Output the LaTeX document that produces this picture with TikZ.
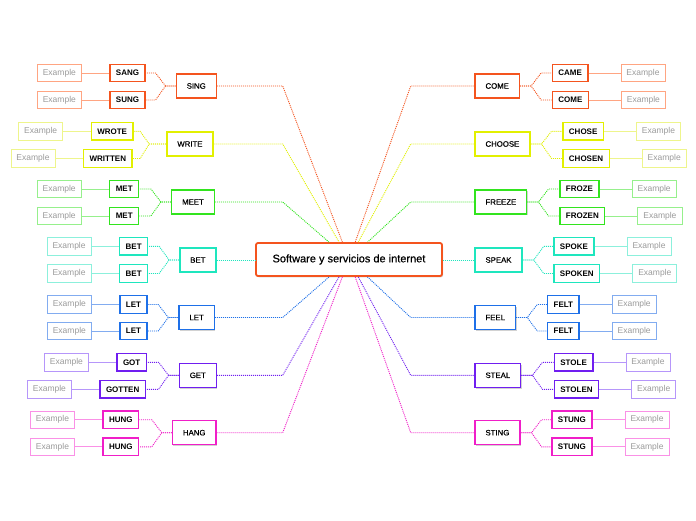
\documentclass[tikz,border=0pt]{standalone}
\usepackage{fontspec}
\setmainfont{Liberation Sans}
\newfontfamily\medfont[FakeBold=0.6]{Liberation Sans}
\usetikzlibrary{calc,shadows,positioning}
\definecolor{cO}{RGB}{244,84,30}   \definecolor{eO}{RGB}{255,165,130}
\definecolor{cY}{RGB}{226,240,0}   \definecolor{eY}{RGB}{238,245,140}
\definecolor{cG}{RGB}{50,228,30}   \definecolor{eG}{RGB}{150,240,140}
\definecolor{cA}{RGB}{30,230,190}  \definecolor{eA}{RGB}{140,240,220}
\definecolor{cB}{RGB}{30,112,232}  \definecolor{eB}{RGB}{130,172,240}
\definecolor{cP}{RGB}{112,30,240}  \definecolor{eP}{RGB}{182,150,250}
\definecolor{cM}{RGB}{240,30,200}  \definecolor{eM}{RGB}{250,145,230}
\definecolor{exgray}{RGB}{155,155,155}
\tikzset{
  mainbox/.style={draw=#1, line width=1.4pt, fill=white, minimum height=24pt, inner xsep=10.5pt, inner ysep=0pt,
    font=\medfont\fontsize{7.8}{9}\selectfont, drop shadow={shadow xshift=1pt,shadow yshift=-1.3pt,opacity=0.35}},
  leafbox/.style={draw=#1, line width=1.3pt, fill=white, minimum height=17.5pt, inner xsep=6pt, inner ysep=0pt,
    font=\fontsize{8}{9}\selectfont\bfseries},
  exbox/.style={draw=#1, line width=0.8pt, fill=white, minimum height=17.5pt, inner xsep=5.5pt, inner ysep=0pt,
    text=exgray, font=\fontsize{8.5}{9}\selectfont},
  dotline/.style={draw=#1, line width=0.9pt, dash pattern=on 1pt off 1pt},
  exline/.style={draw=#1, line width=0.8pt},
}
\newcommand\brL[3]{\draw[dotline=#3] (#1.west) -- ++(-10,0) -- ($(#1.west |- #2.east)+(-20,0)$) -- (#2.east);}
\newcommand\brR[3]{\draw[dotline=#3] (#1.east) -- ++(11,0) -- ($(#1.east |- #2.west)+(21,0)$) -- (#2.west);}
\begin{document}
\begin{tikzpicture}[x=1pt,y=1pt]
\fill[white] (0,0) rectangle (696,-520);
\useasboundingbox (0,0) rectangle (696,-520);

% center
\node[draw=cO, line width=1.8pt, rounded corners=2pt, fill=white, minimum width=186pt, minimum height=33pt,
  font=\medfont\fontsize{11}{13}\selectfont, drop shadow={shadow xshift=1pt,shadow yshift=-1.3pt,opacity=0.35}]
  (center) at (349,-259.5) {Software y servicios de internet};
\coordinate (hl) at (282.7,-259.5);
\coordinate (hr) at (410.7,-259.5);

% left main nodes
\node[mainbox=cO, anchor=east] (sing)  at (217,-86)    {SING};
\node[mainbox=cY, anchor=east] (write) at (213.7,-144) {WRITE};
\node[mainbox=cG, anchor=east] (meet)  at (215,-202)   {MEET};
\node[mainbox=cA, anchor=east] (betm)  at (216.7,-260) {BET};
\node[mainbox=cB, anchor=east] (letm)  at (215,-317.5) {LET};
\node[mainbox=cP, anchor=east] (get)   at (217,-375.3) {GET};
\node[mainbox=cM, anchor=east] (hang)  at (216.7,-432.7) {HANG};

% right main nodes
\node[mainbox=cO, anchor=west] (come)   at (474.3,-86)    {COME};
\node[mainbox=cY, anchor=west] (choose) at (474.3,-144)   {CHOOSE};
\node[mainbox=cG, anchor=west] (freeze) at (474.3,-202)   {FREEZE};
\node[mainbox=cA, anchor=west] (speak)  at (474.3,-260)   {SPEAK};
\node[mainbox=cB, anchor=west] (feel)   at (474.3,-317.5) {FEEL};
\node[mainbox=cP, anchor=west] (steal)  at (474.3,-375.3) {STEAL};
\node[mainbox=cM, anchor=west] (sting)  at (474.3,-432.7) {STING};

% left leaves
\node[leafbox=cO, anchor=east] (sang)    at (145.7,-73)    {SANG};
\node[leafbox=cO, anchor=east] (sung)    at (145.7,-100)   {SUNG};
\node[leafbox=cY, anchor=east] (wrote)   at (133.7,-131.3) {WROTE};
\node[leafbox=cY, anchor=east] (written) at (132.7,-158.5) {WRITTEN};
\node[leafbox=cG, anchor=east] (meta)    at (139.3,-189)   {MET};
\node[leafbox=cG, anchor=east] (metb)    at (139.3,-216)   {MET};
\node[leafbox=cA, anchor=east] (beta)    at (148.3,-246.3) {BET};
\node[leafbox=cA, anchor=east] (betb)    at (148.3,-273.5) {BET};
\node[leafbox=cB, anchor=east] (leta)    at (147.7,-304.5) {LET};
\node[leafbox=cB, anchor=east] (letb)    at (147.7,-331)   {LET};
\node[leafbox=cP, anchor=east] (got)     at (147,-362.3)   {GOT};
\node[leafbox=cP, anchor=east] (gotten)  at (146,-389.3)   {GOTTEN};
\node[leafbox=cM, anchor=east] (hunga)   at (139.3,-419.7) {HUNG};
\node[leafbox=cM, anchor=east] (hungb)   at (139.3,-446.8) {HUNG};

% right leaves
\node[leafbox=cO, anchor=west] (came)    at (551.7,-73)    {CAME};
\node[leafbox=cO, anchor=west] (comeb)   at (551.7,-100)   {COME};
\node[leafbox=cY, anchor=west] (chose)   at (562.3,-131.3) {CHOSE};
\node[leafbox=cY, anchor=west] (chosen)  at (562.3,-158.5) {CHOSEN};
\node[leafbox=cG, anchor=west] (froze)   at (559.3,-189)   {FROZE};
\node[leafbox=cG, anchor=west] (frozen)  at (559.3,-216)   {FROZEN};
\node[leafbox=cA, anchor=west] (spoke)   at (553.3,-246.3) {SPOKE};
\node[leafbox=cA, anchor=west] (spoken)  at (553.3,-273.5) {SPOKEN};
\node[leafbox=cB, anchor=west] (felta)   at (547,-304.5)   {FELT};
\node[leafbox=cB, anchor=west] (feltb)   at (547,-331)     {FELT};
\node[leafbox=cP, anchor=west] (stole)   at (553.7,-362.3) {STOLE};
\node[leafbox=cP, anchor=west] (stolen)  at (553.7,-389.3) {STOLEN};
\node[leafbox=cM, anchor=west] (stunga)  at (551.3,-419.7) {STUNG};
\node[leafbox=cM, anchor=west] (stungb)  at (551.3,-446.8) {STUNG};

% left examples
\foreach \l/\c in {sang/eO,sung/eO,wrote/eY,written/eY,meta/eG,metb/eG,beta/eA,betb/eA,leta/eB,letb/eB,got/eP,gotten/eP,hunga/eM,hungb/eM}{
  \node[exbox=\c, left=27.5pt of \l] (ex\l) {Example};
  \draw[exline=\c] (ex\l.east) -- (\l.west);
}
% right examples
\foreach \l/\c in {came/eO,comeb/eO,chose/eY,chosen/eY,froze/eG,frozen/eG,spoke/eA,spoken/eA,felta/eB,feltb/eB,stole/eP,stolen/eP,stunga/eM,stungb/eM}{
  \node[exbox=\c, right=32pt of \l] (ex\l) {Example};
  \draw[exline=\c] (\l.east) -- (ex\l.west);
}

% branches left
\brL{sing}{sang}{cO} \brL{sing}{sung}{cO}
\draw[dotline=cY] (write.west) -- ++(-17,0) -- ($(write.west |- wrote.east)+(-26,0)$) -- (wrote.east);
\draw[dotline=cY] (write.west) -- ++(-17,0) -- ($(write.west |- written.east)+(-26,0)$) -- (written.east);
\brL{meet}{meta}{cG} \brL{meet}{metb}{cG}
\brL{betm}{beta}{cA} \brL{betm}{betb}{cA}
\brL{letm}{leta}{cB} \brL{letm}{letb}{cB}
\brL{get}{got}{cP} \brL{get}{gotten}{cP}
\brL{hang}{hunga}{cM} \brL{hang}{hungb}{cM}
% branches right
\brR{come}{came}{cO} \brR{come}{comeb}{cO}
\brR{choose}{chose}{cY} \brR{choose}{chosen}{cY}
\brR{freeze}{froze}{cG} \brR{freeze}{frozen}{cG}
\brR{speak}{spoke}{cA} \brR{speak}{spoken}{cA}
\brR{feel}{felta}{cB} \brR{feel}{feltb}{cB}
\brR{steal}{stole}{cP} \brR{steal}{stolen}{cP}
\brR{sting}{stunga}{cM} \brR{sting}{stungb}{cM}

% to center
\foreach \m/\c in {sing/cO,write/cY,meet/cG,letm/cB,get/cP,hang/cM}{
  \draw[dotline=\c] (\m.east) -- (\m.east -| hl) -- (center);
}
\draw[dotline=cA] (betm.east) -- (center.west |- betm.east);
\foreach \m/\c in {come/cO,choose/cY,freeze/cG,feel/cB,steal/cP,sting/cM}{
  \draw[dotline=\c] (\m.west) -- (\m.west -| hr) -- (center);
}
\draw[dotline=cA] (speak.west) -- (center.east |- speak.west);
\end{tikzpicture}
\end{document}
